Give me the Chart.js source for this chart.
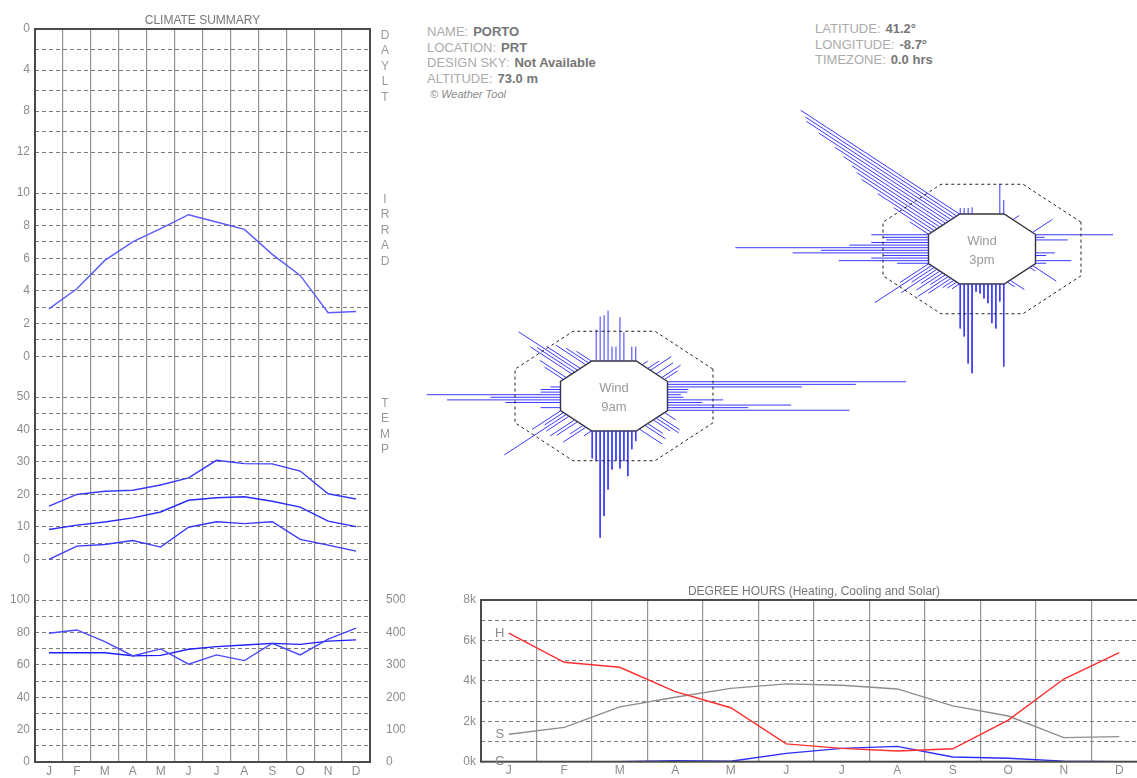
<!DOCTYPE html>
<html>
<head>
<meta charset="utf-8">
<script src="https://cdn.jsdelivr.net/npm/chart.js@4.4.1/dist/chart.umd.min.js"></script>
<style>
html, body { margin: 0; padding: 0; overflow: hidden; background: #fff; width: 1137px; height: 778px; }
canvas, .info { position: absolute; }
#climate { left: 0; top: 0; }
#degree { left: 440px; top: 580px; }
#wind9 { left: 314px; top: 246px; }
#wind3 { left: 682px; top: 99px; }
.info { font: 13px "Liberation Sans", Arial, sans-serif; color: #ababab; line-height: 15.5px; white-space: nowrap; }
.info b { color: #767676; margin-left: 5px; }
.info .credit { font-style: italic; font-size: 11px; color: #8a8a8a; margin-left: 3px; }
#infoLeft { left: 427px; top: 24px; }
#infoRight { left: 815px; top: 21px; }
</style>
</head>
<body>
<canvas id="climate" width="405" height="778"></canvas>
<canvas id="degree" width="748" height="198"></canvas>
<canvas id="wind9" width="600" height="300"></canvas>
<canvas id="wind3" width="600" height="300"></canvas>
<div class="info" id="infoLeft"></div>
<div class="info" id="infoRight"></div>
<script>
var months = ["J", "F", "M", "A", "M", "J", "J", "A", "S", "O", "N", "D"];

// climate summary (left panel)
var irradiance = [2.9, 4.13, 5.87, 7.0, 7.82, 8.67, 8.22, 7.77, 6.24, 4.95, 2.66, 2.74];
var tempMax = [16.4, 20.0, 21.0, 21.3, 22.9, 25.1, 30.5, 29.5, 29.4, 27.2, 20.2, 18.6];
var tempMean = [9.2, 10.55, 11.5, 12.8, 14.6, 18.2, 19.0, 19.3, 17.9, 16.1, 11.8, 10.1];
var tempMin = [0.0, 4.1, 4.6, 5.8, 3.8, 9.9, 11.6, 11.0, 11.6, 6.15, 4.4, 2.55];
var humidity = [79.5, 81.5, 74.3, 65.5, 69.8, 60.4, 66.1, 62.6, 73.3, 66.1, 75.8, 82.6];
var humidityRight = [337, 337, 337, 328, 329, 348, 356, 361, 366, 363, 373, 377];
var sideTitles = [["yDay", "DAYLT"], ["yIrr", "IRRAD"], ["yTemp", "TEMP"]];

// degree hours
var heating = [6360, 4920, 4670, 3470, 2670, 880, 660, 530, 640, 2060, 4090, 5400];
var solar = [1360, 1700, 2710, 3190, 3630, 3850, 3780, 3600, 2760, 2260, 1190, 1240];
var cooling = [0, 0, 0, 50, 20, 410, 660, 760, 230, 170, 30, 0];

// wind: rows are N, NE, E, SE, S, SW, W, NW; one bar per month along each edge
var windDirs = [90, 45, 0, -45, -90, -135, 180, 135];
var wind9am = [
  [4.1, 4.1, 0, 8.2, 12.5, 4.1, 4.1, 14.4, 13.1, 12.7, 9.0, 0],
  [0, 3.5, 5.0, 0, 4.5, 0, 5.5, 3.0, 0, 1.5, 0, 0],
  [34.0, 15.1, 23.1, 6.5, 10.4, 3.0, 2.5, 3.7, 3.9, 25.1, 35.2, 44.6],
  [0, 6.0, 0, 5.5, 4.0, 0, 4.5, 6.0, 5.5, 0, 3.0, 0],
  [7.8, 8.6, 30.5, 24.3, 16.7, 11.0, 8.4, 10.7, 8.6, 12.9, 5.2, 2.9],
  [7.6, 5.0, 16.4, 6.0, 0, 6.5, 5.5, 0, 3.5, 6.0, 0, 2.0],
  [0, 0, 1.9, 3.7, 3.7, 25.0, 13.1, 21.2, 10.3, 0, 3.7, 0],
  [4.0, 6.0, 8.0, 0, 9.0, 15.6, 10.0, 11.0, 0, 7.0, 5.0, 0]
];
var wind3pm = [
  [4.0, 8.6, 0, 0, 0, 0, 0, 0, 1.9, 1.7, 1.7, 1.7],
  [0, 5.3, 0, 0, 0, 0, 0, 0, 1.7, 0, 0, 0],
  [2.0, 6.7, 0, 2.0, 3.6, 0, 0, 0, 0, 6.0, 1.7, 14.5],
  [0, 2.0, 3.8, 0, 0, 0, 0, 0, 0, 1.5, 6.3, 0],
  [12.7, 15.0, 22.7, 25.5, 2.2, 2.7, 4.1, 5.5, 11.2, 12.7, 5.0, 23.6],
  [7.6, 15.0, 6.0, 9.5, 5.0, 7.0, 4.0, 8.1, 6.0, 3.0, 2.5, 2.0],
  [10.7, 8.5, 7.9, 10.7, 14.8, 36.1, 20.1, 25.4, 8.5, 10.7, 16.8, 5.9],
  [42, 40, 39, 35, 30, 27, 24, 22, 20, 15, 10, 5]
];

var infoLeft = [["NAME:", "PORTO"], ["LOCATION:", "PRT"], ["DESIGN SKY:", "Not Available"], ["ALTITUDE:", "73.0 m"]];
var infoRight = [["LATITUDE:", "41.2°"], ["LONGITUDE:", "-8.7°"], ["TIMEZONE:", "0.0 hrs"]];

Chart.defaults.font.family = '"Liberation Sans", Arial, sans-serif';
Chart.defaults.font.size = 12;
Chart.defaults.color = "#8c8c8c";
Chart.defaults.animation = false;

function fillInfo(id, rows, credit) {
  var html = rows.map(function (r) { return r[0] + "<b>" + r[1] + "</b>"; }).join("<br>");
  if (credit) html += '<br><span class="credit">© Weather Tool</span>';
  document.getElementById(id).innerHTML = html;
}
fillInfo("infoLeft", infoLeft, true);
fillInfo("infoRight", infoRight, false);

var framePlugin = {
  id: "frame",
  afterDraw: function (c) {
    var a = c.chartArea, ctx = c.ctx;
    ctx.save();
    ctx.strokeStyle = "#4a4a4a";
    ctx.lineWidth = 2;
    ctx.strokeRect(a.left, a.top, a.right - a.left, a.bottom - a.top);
    ctx.restore();
  }
};

var sideTitlePlugin = {
  id: "sideTitles",
  afterDraw: function (c) {
    var ctx = c.ctx;
    ctx.save();
    ctx.fillStyle = "#999";
    ctx.font = '12px "Liberation Sans", Arial, sans-serif';
    ctx.textAlign = "center";
    ctx.textBaseline = "middle";
    sideTitles.forEach(function (t) {
      var s = c.scales[t[0]];
      t[1].split("").forEach(function (ch, i) {
        ctx.fillText(ch, c.chartArea.right + 15, s.top + 6.5 + i * 15.5);
      });
    });
    ctx.restore();
  }
};

function sectionAxis(min, max, step, labelStep, lo, hi, weight, stackWeight, reverse) {
  return {
    type: "linear", position: "left", stack: "left", stackWeight: stackWeight, weight: weight,
    min: min, max: max, reverse: !!reverse,
    afterFit: function (s) { s.width = 35; },
    border: { display: false, dash: [4, 3] },
    grid: {
      drawTicks: false, lineWidth: 1,
      color: function (ctx) {
        var v = ctx.tick ? ctx.tick.value : NaN;
        return (v >= lo && v <= hi) ? "#7c7c7c" : "rgba(0,0,0,0)";
      }
    },
    ticks: {
      stepSize: step, autoSkip: false, padding: 5,
      callback: function (v) { return (v >= lo && v <= hi && v % labelStep === 0) ? String(v) : ""; }
    }
  };
}

function blankRight(weight, stackWeight, extra) {
  var o = {
    type: "linear", position: "right", stack: "right", stackWeight: stackWeight, weight: weight,
    afterFit: function (s) { s.width = 35; },
    grid: { display: false }, border: { display: false },
    ticks: { display: false }
  };
  return Object.assign(o, extra || {});
}

var lineStyle = { pointRadius: 0, borderWidth: 1.4, fill: false };
var monthGrid = { offset: true, drawTicks: false, color: "#939393", lineWidth: 1.2 };

new Chart("climate", {
  type: "line",
  data: {
    labels: months,
    datasets: [
      Object.assign({ data: irradiance, yAxisID: "yIrr", borderColor: "#5a5aff" }, lineStyle),
      Object.assign({ data: tempMax, yAxisID: "yTemp", borderColor: "#3a3aff" }, lineStyle),
      Object.assign({ data: tempMean, yAxisID: "yTemp", borderColor: "#2a2aff" }, lineStyle),
      Object.assign({ data: tempMin, yAxisID: "yTemp", borderColor: "#3a3aff" }, lineStyle),
      Object.assign({ data: humidity, yAxisID: "yHum", borderColor: "#4848ff" }, lineStyle),
      Object.assign({ data: humidityRight, yAxisID: "yHum2", borderColor: "#2020ff" }, lineStyle)
    ]
  },
  options: {
    responsive: false,
    events: [],
    layout: { padding: 0 },
    plugins: {
      legend: { display: false },
      tooltip: { enabled: false },
      title: {
        display: true, text: "CLIMATE SUMMARY", color: "#777",
        font: { size: 12, weight: "normal" }, padding: { top: 13, bottom: 1.6 }
      }
    },
    scales: {
      x: {
        offset: true,
        afterFit: function (s) { s.height = 16; },
        grid: monthGrid,
        border: { display: false },
        ticks: { padding: 2, autoSkip: false, maxRotation: 0 }
      },
      yDay: sectionAxis(0, 16, 2, 4, 0, 12, 4, 164, true),
      yIrr: sectionAxis(-2.5, 10, 1, 2, 0, 10, 3, 204),
      yTemp: sectionAxis(-12.5, 50, 5, 10, 0, 50, 2, 203),
      yHum: sectionAxis(0, 100, 10, 20, 0, 100, 1, 162),
      rDay: blankRight(1, 164),
      rIrr: blankRight(2, 204),
      rTemp: blankRight(3, 203),
      yHum2: blankRight(4, 162, {
        min: 0, max: 500,
        ticks: { display: true, stepSize: 100, autoSkip: false, padding: 8 }
      })
    }
  },
  plugins: [framePlugin, sideTitlePlugin]
});

var seriesTagPlugin = {
  id: "seriesTags",
  afterDraw: function (c) {
    var ctx = c.ctx;
    ctx.save();
    ctx.fillStyle = "#8a8a8a";
    ctx.font = '13px "Liberation Sans", Arial, sans-serif';
    ctx.textAlign = "center";
    ctx.textBaseline = "middle";
    c.data.datasets.forEach(function (ds, i) {
      var p = c.getDatasetMeta(i).data[0];
      ctx.fillText(ds.label, p.x - 9, p.y);
    });
    ctx.restore();
  }
};

new Chart("degree", {
  type: "line",
  data: {
    labels: months,
    datasets: [
      Object.assign({ label: "H", data: heating, borderColor: "#ff2e2e" }, lineStyle),
      Object.assign({ label: "S", data: solar, borderColor: "#8e8e8e" }, lineStyle),
      Object.assign({ label: "C", data: cooling, borderColor: "#2d2dff" }, lineStyle)
    ]
  },
  options: {
    responsive: false,
    events: [],
    layout: { padding: 0 },
    plugins: {
      legend: { display: false },
      tooltip: { enabled: false },
      title: {
        display: true, text: "DEGREE HOURS (Heating, Cooling and Solar)", color: "#777",
        font: { size: 12, weight: "normal" }, padding: { top: 4, bottom: 1.6 }
      }
    },
    scales: {
      x: {
        offset: true,
        afterFit: function (s) { s.height = 16.3; },
        grid: monthGrid,
        border: { display: false },
        ticks: { padding: 2, autoSkip: false, maxRotation: 0 }
      },
      y: {
        position: "left", min: 0, max: 8000,
        afterFit: function (s) { s.width = 41; },
        border: { display: false, dash: [4, 3] },
        grid: {
          drawTicks: false,
          color: function (ctx) {
            var v = ctx.tick ? ctx.tick.value : NaN;
            return (v > 0 && v < 8000) ? "#7c7c7c" : "rgba(0,0,0,0)";
          }
        },
        ticks: {
          stepSize: 1000, autoSkip: false, padding: 5,
          callback: function (v) { return v % 2000 === 0 ? (v / 1000) + "k" : ""; }
        }
      },
      yR: {
        position: "right",
        afterFit: function (s) { s.width = 41; },
        grid: { display: false }, border: { display: false }, ticks: { display: false }
      }
    }
  },
  plugins: [framePlugin, seriesTagPlugin]
});

// wind roses: regular octagon in data units, bars run outward from each edge
var octInner = 10, octOuter = 18.5, barSpacing = 0.74;

function octagon(apothem) {
  var r = apothem / Math.cos(Math.PI / 8), pts = [];
  for (var k = 0; k <= 8; k++) {
    var a = Math.PI / 8 + k * Math.PI / 4;
    pts.push({ x: r * Math.cos(a), y: r * Math.sin(a) });
  }
  return pts;
}

function windBars(rows) {
  var pts = [];
  rows.forEach(function (row, d) {
    var th = windDirs[d] * Math.PI / 180;
    var nx = Math.cos(th), ny = Math.sin(th), tx = -ny, ty = nx;
    row.forEach(function (len, i) {
      if (!len) return;
      var s = (i - 5.5) * barSpacing;
      var bx = nx * octInner + tx * s, by = ny * octInner + ty * s;
      pts.push({ x: bx, y: by }, { x: bx + nx * len, y: by + ny * len }, { x: NaN, y: NaN });
    });
  });
  return pts;
}

function windRose(id, rows, label) {
  new Chart(id, {
    type: "scatter",
    data: {
      datasets: [
        { data: octagon(octOuter), showLine: true, borderColor: "#222", borderWidth: 1, borderDash: [3, 3], pointRadius: 0 },
        { data: windBars(rows), showLine: true, spanGaps: false, borderColor: "#3838ff", borderWidth: 1, pointRadius: 0 },
        { data: octagon(octInner), showLine: true, borderColor: "#333", borderWidth: 1.4, pointRadius: 0 }
      ]
    },
    options: {
      responsive: false,
      events: [],
      layout: { padding: 0 },
      plugins: { legend: { display: false }, tooltip: { enabled: false } },
      scales: {
        x: { display: false, min: -56.07, max: 56.07 },
        y: { display: false, min: -42.86, max: 42.86 }
      }
    },
    plugins: [{
      id: "windLabel",
      afterDraw: function (c) {
        var ctx = c.ctx;
        var x = c.scales.x.getPixelForValue(0), y = c.scales.y.getPixelForValue(0);
        ctx.save();
        ctx.fillStyle = "#9a9a9a";
        ctx.font = '13px "Liberation Sans", Arial, sans-serif';
        ctx.textAlign = "center";
        ctx.textBaseline = "middle";
        ctx.fillText("Wind", x, y - 8);
        ctx.fillText(label, x, y + 11.5);
        ctx.restore();
      }
    }]
  });
}

windRose("wind9", wind9am, "9am");
windRose("wind3", wind3pm, "3pm");
</script>
</body>
</html>
